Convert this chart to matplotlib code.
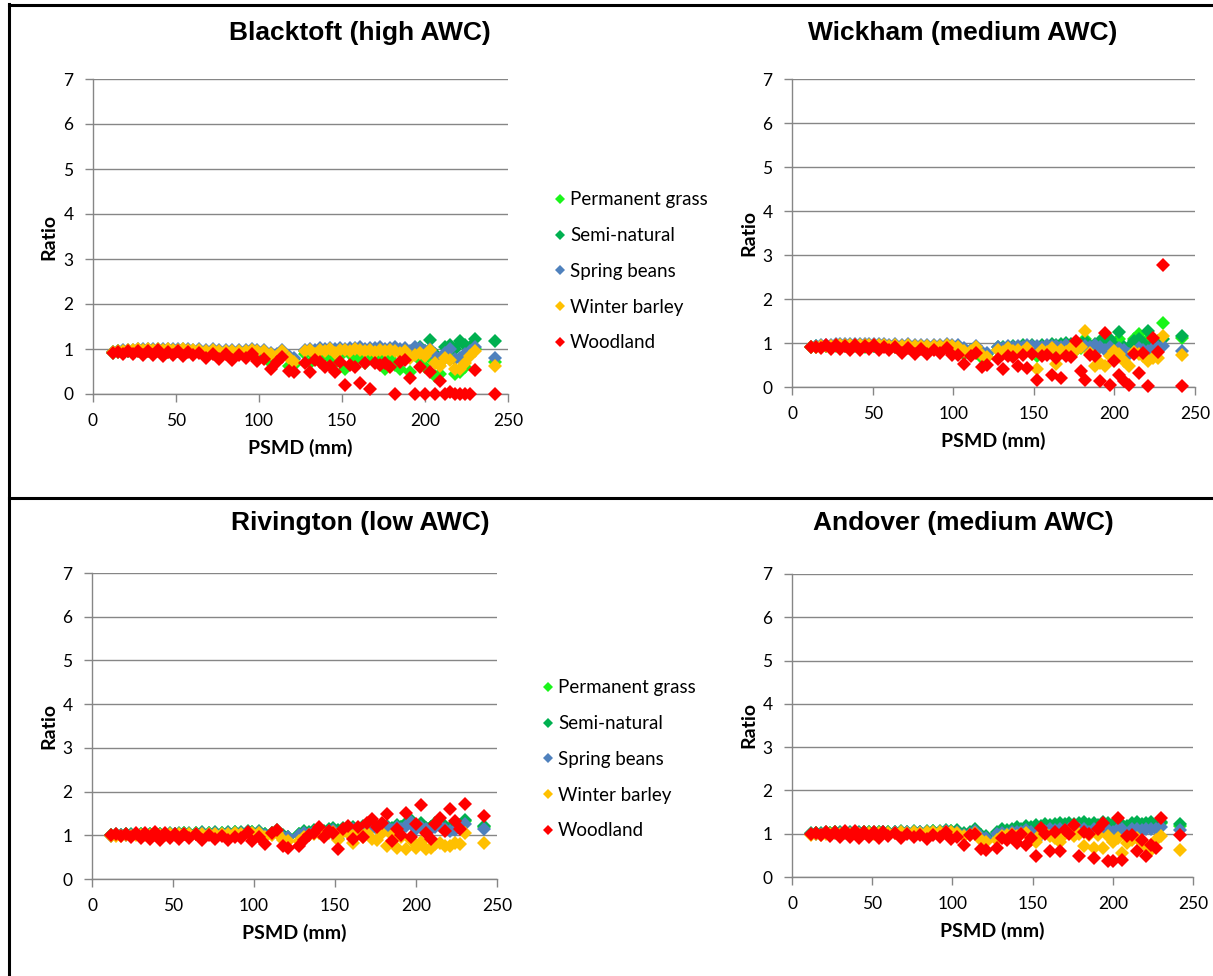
import matplotlib
matplotlib.use("Agg")
import matplotlib.pyplot as plt
from matplotlib.lines import Line2D

# ---------------- data ----------------
psmd = [12, 15, 18, 21, 24, 27, 30, 33, 36, 39, 42, 45, 48, 51, 54, 57, 60, 64, 68, 72, 76, 80, 84, 88, 92, 96, 99,
        103, 107, 111, 114, 118, 121,
        128, 131, 134, 137, 140, 143, 146, 149, 152, 155, 158, 161, 164, 167, 170, 173, 176, 179,
        182, 185, 188, 191, 194, 197, 200, 203, 206, 209, 212, 215, 218, 221, 224, 227, 230, 242]

series_names = ["Permanent grass", "Semi-natural", "Spring beans", "Winter barley", "Woodland"]
series_colors = ["#1AF51A", "#00B050", "#4F81BD", "#FFC000", "#FF0000"]

# Blacktoft (high AWC)
bt_grass = [0.92,0.94,0.93,0.95,0.94,0.96,0.95,0.96,0.94,0.96,0.95,0.94,0.96,0.95,0.94,0.95,0.93,0.94,0.92,0.93,0.91,0.92,0.91,0.92,0.91,0.93,0.92,
            0.90,0.70,0.80,0.90,0.62,0.65,
            0.90,0.70,0.85,0.75,0.90,0.80,0.70,0.85,0.55,0.90,0.75,0.85,0.70,0.90,0.75,0.85,0.55,0.80,0.65,0.55,0.85,0.50,0.90,0.75,0.60,0.80,0.40,0.45,0.85,0.95,0.45,0.50,0.60,0.90,1.00,0.72]
bt_semi = [0.93,0.95,0.94,0.96,0.95,0.97,0.96,0.97,0.95,0.97,0.96,0.95,0.97,0.96,0.95,0.96,0.94,0.95,0.93,0.94,0.92,0.93,0.92,0.93,0.92,0.94,0.93,
           0.95,0.90,0.86,0.96,0.82,0.78,
           0.95,0.98,0.93,1.00,0.97,1.00,0.95,1.00,0.98,1.00,1.00,1.02,0.97,1.00,0.98,1.00,0.97,1.00,1.02,0.95,1.00,0.90,1.00,1.05,0.95,1.20,0.90,0.75,1.05,1.08,1.00,1.17,1.10,1.05,1.22,1.17]
bt_beans = [0.94,0.96,0.97,0.98,0.98,1.00,0.99,1.00,1.00,1.00,0.99,1.00,1.00,0.99,1.00,0.99,0.98,0.99,0.98,0.99,0.97,0.98,0.97,0.98,0.97,0.99,0.98,
            0.98,0.92,0.88,0.98,0.85,0.80,
            0.98,1.00,0.97,1.02,1.00,1.03,1.00,1.02,1.00,1.03,1.02,1.04,1.00,1.03,1.02,1.04,1.00,1.02,1.05,1.00,1.02,0.95,1.05,1.02,0.95,1.00,0.85,0.70,0.92,1.00,0.78,0.80,0.90,0.95,1.05,0.80]
bt_barley = [0.93,0.95,0.96,0.97,0.97,0.99,0.98,0.99,0.98,0.99,0.98,0.99,0.98,0.98,0.99,0.98,0.97,0.97,0.96,0.97,0.95,0.96,0.95,0.96,0.95,0.97,0.96,
             0.95,0.88,0.85,0.95,0.80,0.72,
             0.95,0.97,0.90,0.98,0.95,0.99,0.92,0.97,0.98,0.95,0.99,0.97,0.95,0.98,0.93,0.97,0.95,0.98,0.96,0.92,0.95,0.80,0.87,0.92,0.85,0.98,0.70,0.62,0.80,0.75,0.55,0.55,0.70,0.85,0.95,0.62]
bt_wood = [0.92,0.93,0.90,0.95,0.88,0.96,0.87,0.95,0.86,0.97,0.85,0.94,0.87,0.96,0.84,0.93,0.86,0.92,0.80,0.90,0.78,0.88,0.76,0.86,0.80,0.90,0.74,
           0.78,0.55,0.72,0.82,0.52,0.50,
           0.69,0.50,0.75,0.72,0.60,0.62,0.50,0.72,0.19,0.65,0.60,0.25,0.70,0.12,0.68,0.65,0.70,0.60,0.00,0.72,0.75,0.36,0.00,0.60,0.00,0.50,0.00,0.28,0.00,0.05,0.00,0.00,0.00,0.00,0.54,0.00]

# Wickham (medium AWC)
wk_grass = [0.90,0.92,0.91,0.93,0.92,0.94,0.93,0.94,0.92,0.94,0.93,0.92,0.94,0.93,0.92,0.93,0.91,0.92,0.90,0.91,0.89,0.90,0.89,0.90,0.89,0.91,0.90,
            0.88,0.75,0.80,0.88,0.65,0.68,
            0.85,0.80,0.88,0.80,0.90,0.85,0.88,0.80,0.70,0.88,0.85,0.90,0.80,0.92,0.85,0.90,0.85,0.88,1.10,0.85,0.95,0.90,1.00,1.05,0.90,1.10,0.85,0.80,1.08,1.20,0.95,1.10,0.95,1.00,1.45,1.12]
wk_semi = [0.91,0.93,0.92,0.94,0.93,0.95,0.94,0.95,0.93,0.95,0.94,0.93,0.95,0.94,0.93,0.94,0.92,0.93,0.91,0.92,0.90,0.91,0.90,0.91,0.90,0.92,0.91,
           0.92,0.85,0.85,0.92,0.78,0.75,
           0.90,0.92,0.88,0.93,0.90,0.95,0.92,0.95,0.90,0.96,0.93,0.97,0.95,0.98,1.00,0.97,0.98,0.95,1.05,0.93,0.98,1.05,0.95,1.08,0.95,1.25,0.92,0.90,1.05,1.10,1.00,1.27,0.98,1.05,1.10,1.15]
wk_beans = [0.92,0.94,0.95,0.96,0.96,0.98,0.97,0.98,0.98,0.98,0.97,0.98,0.98,0.97,0.98,0.97,0.96,0.97,0.96,0.97,0.95,0.96,0.95,0.96,0.95,0.97,0.96,
            0.95,0.88,0.85,0.93,0.80,0.78,
            0.92,0.88,0.93,0.90,0.94,0.92,0.95,0.93,0.94,0.90,0.95,0.93,0.94,0.92,0.95,0.93,0.95,0.94,0.93,0.92,0.95,0.90,0.85,0.92,0.80,0.88,0.85,0.75,0.80,0.88,0.85,0.82,0.88,0.90,0.94,0.82]
wk_barley = [0.90,0.92,0.93,0.94,0.94,0.96,0.95,0.96,0.96,0.96,0.95,0.96,0.96,0.95,0.96,0.95,0.94,0.95,0.94,0.95,0.93,0.94,0.93,0.94,0.93,0.95,0.94,
             0.92,0.82,0.82,0.90,0.72,0.68,
             0.85,0.80,0.88,0.82,0.85,0.80,0.88,0.75,0.40,0.85,0.80,0.88,0.52,0.85,0.80,0.88,0.85,0.90,1.27,0.78,0.48,0.55,0.48,0.70,0.82,0.75,0.60,0.48,0.80,0.75,0.70,0.60,0.65,0.65,1.17,0.72]
wk_wood = [0.90,0.92,0.88,0.95,0.87,0.96,0.86,0.94,0.85,0.96,0.84,0.93,0.86,0.95,0.83,0.92,0.85,0.90,0.78,0.88,0.76,0.86,0.75,0.84,0.78,0.88,0.72,
           0.72,0.52,0.70,0.78,0.45,0.50,
           0.63,0.42,0.70,0.68,0.48,0.72,0.44,0.75,0.15,0.70,0.72,0.28,0.65,0.21,0.70,0.68,1.05,0.36,0.17,0.72,0.70,0.13,1.22,0.05,0.60,0.28,0.13,0.05,0.75,0.32,0.78,0.02,1.12,0.80,2.78,0.02]

# Rivington (low AWC)
rv_grass = [1.00,1.01,1.00,1.02,1.01,1.03,1.02,1.03,1.02,1.03,1.02,1.03,1.04,1.03,1.04,1.05,1.04,1.05,1.06,1.05,1.06,1.05,1.06,1.07,1.06,1.08,1.07,
            1.08,1.02,1.05,1.10,0.98,0.95,
            1.02,1.08,1.05,1.10,1.12,1.08,1.12,1.15,1.10,1.15,1.12,1.17,1.15,1.20,1.17,1.20,1.18,1.22,1.20,1.15,1.22,1.18,1.25,1.32,1.20,1.25,1.15,1.18,1.25,1.28,1.20,1.15,1.25,1.22,1.32,1.20]
rv_semi = [1.01,1.02,1.01,1.03,1.02,1.04,1.03,1.04,1.03,1.04,1.03,1.04,1.05,1.04,1.05,1.06,1.05,1.06,1.07,1.06,1.07,1.06,1.07,1.08,1.07,1.09,1.08,
           1.10,1.04,1.06,1.12,1.00,0.96,
           1.04,1.10,1.07,1.12,1.14,1.10,1.14,1.17,1.12,1.17,1.14,1.19,1.17,1.22,1.19,1.22,1.20,1.24,1.22,1.17,1.24,1.20,1.27,1.34,1.22,1.27,1.17,1.20,1.27,1.30,1.22,1.17,1.27,1.24,1.34,1.22]
rv_beans = [0.99,1.00,1.00,1.01,1.00,1.02,1.01,1.02,1.01,1.02,1.01,1.02,1.03,1.02,1.03,1.04,1.03,1.04,1.05,1.04,1.05,1.04,1.05,1.06,1.05,1.07,1.06,
            1.07,1.00,1.03,1.08,0.97,0.95,
            1.00,1.05,1.02,1.08,1.10,1.05,1.10,1.12,0.92,1.12,1.10,1.15,1.12,1.17,1.15,1.18,1.15,1.20,1.18,1.12,1.20,1.15,1.22,1.30,1.15,1.20,1.14,1.15,1.20,1.22,1.15,1.10,1.12,1.20,1.25,1.14]
rv_barley = [0.98,0.99,0.99,1.00,0.99,1.01,1.00,1.01,1.00,1.01,1.00,1.01,1.02,1.01,1.02,1.03,1.02,1.03,1.04,1.03,1.04,1.03,1.04,1.05,1.04,1.06,1.05,
             1.05,0.95,1.00,1.05,0.90,0.88,
             0.88,0.95,1.00,1.02,1.05,1.00,1.05,1.08,0.90,1.08,1.05,0.83,1.10,0.95,1.05,0.92,0.90,1.05,0.75,1.00,0.72,0.95,0.68,0.90,0.72,0.85,0.68,0.72,0.80,0.83,0.75,0.75,0.83,0.80,1.05,0.82]
rv_wood = [1.00,1.02,0.98,1.04,0.96,1.05,0.93,1.06,0.92,1.07,0.90,1.05,0.93,1.04,0.91,1.03,0.94,1.02,0.90,1.00,0.92,0.98,0.89,0.97,0.93,1.08,0.88,
           0.97,0.80,1.05,1.12,0.75,0.72,
           0.75,0.90,1.00,1.05,1.18,0.95,1.10,1.05,0.69,1.15,1.22,0.91,1.20,0.95,1.29,1.37,1.20,1.29,1.48,0.87,1.15,1.00,1.52,0.95,1.25,1.70,1.06,0.91,1.25,1.40,1.10,1.60,1.33,1.15,1.72,1.45]

# Andover (medium AWC)
an_grass = [1.00,1.01,1.00,1.02,1.01,1.03,1.02,1.03,1.02,1.03,1.02,1.03,1.03,1.02,1.03,1.04,1.03,1.04,1.05,1.04,1.05,1.04,1.05,1.06,1.05,1.07,1.06,
            1.05,1.00,1.02,1.08,0.95,0.92,
            1.02,1.05,1.05,1.08,1.10,1.08,1.12,1.10,1.15,1.12,1.15,1.15,1.17,1.18,1.15,1.18,1.17,1.20,1.20,1.15,1.20,1.15,1.22,1.20,1.18,1.25,1.15,1.12,1.20,1.22,1.18,1.20,1.22,1.18,1.25,1.18]
an_semi = [1.01,1.02,1.01,1.03,1.02,1.04,1.03,1.04,1.03,1.04,1.03,1.04,1.04,1.03,1.04,1.05,1.04,1.05,1.06,1.05,1.06,1.05,1.06,1.07,1.06,1.08,1.07,
           1.08,1.02,1.04,1.10,0.98,0.95,
           1.05,1.10,1.08,1.12,1.15,1.12,1.18,1.15,1.20,1.17,1.22,1.20,1.22,1.25,1.22,1.25,1.22,1.25,1.27,1.22,1.25,1.20,1.28,1.25,1.22,1.30,1.20,1.18,1.25,1.27,1.22,1.25,1.27,1.22,1.28,1.22]
an_beans = [0.99,1.00,0.99,1.01,1.00,1.02,1.01,1.02,1.01,1.02,1.01,1.02,1.02,1.01,1.02,1.03,1.02,1.03,1.04,1.03,1.04,1.03,1.04,1.05,1.04,1.06,1.05,
            1.05,0.98,1.00,1.06,0.93,0.90,
            1.00,1.02,1.00,1.05,1.05,1.03,1.08,1.05,0.85,1.08,1.06,1.10,1.08,1.10,1.08,1.10,1.08,1.12,1.10,1.05,1.10,1.05,1.12,1.08,1.05,1.12,1.10,1.00,1.10,1.12,1.08,1.10,1.12,1.10,1.15,1.08]
an_barley = [0.98,0.99,0.98,1.00,0.99,1.01,1.00,1.01,1.00,1.01,1.00,1.01,1.01,1.00,1.01,1.02,1.01,1.02,1.03,1.02,1.03,1.02,1.03,1.04,1.03,1.05,1.04,
             1.02,0.95,0.98,1.02,0.85,0.82,
             0.85,0.95,0.98,1.00,0.95,1.00,1.02,0.85,0.80,1.00,1.02,0.95,0.90,0.82,1.00,1.02,0.95,1.00,0.71,0.98,0.67,0.98,0.67,0.95,0.82,0.90,0.55,0.78,0.85,0.90,0.80,0.71,0.63,0.85,0.94,0.63]
an_wood = [1.00,1.02,0.97,1.04,0.95,1.05,0.93,1.06,0.92,1.07,0.90,1.05,0.93,1.04,0.91,1.03,0.94,1.02,0.89,1.00,0.92,0.98,0.88,0.97,0.92,1.04,0.88,
           0.92,0.75,0.98,1.00,0.65,0.62,
           0.67,0.90,0.85,0.98,0.78,1.00,0.75,0.90,0.48,1.13,1.00,0.59,1.05,0.59,1.09,1.00,1.20,0.48,1.05,1.00,0.44,1.10,1.25,0.36,0.36,1.36,0.40,0.95,0.98,0.59,0.85,0.48,0.75,0.67,1.36,0.98]

titles = ["Blacktoft (high AWC)", "Wickham (medium AWC)", "Rivington (low AWC)", "Andover (medium AWC)"]
panel_series = [
    [bt_grass, bt_semi, bt_beans, bt_barley, bt_wood],
    [wk_grass, wk_semi, wk_beans, wk_barley, wk_wood],
    [rv_grass, rv_semi, rv_beans, rv_barley, rv_wood],
    [an_grass, an_semi, an_beans, an_barley, an_wood],
]
for grp in panel_series:
    for s in grp:
        assert len(s) == len(psmd), len(s)

x_ticks = [0, 50, 100, 150, 200, 250]
y_ticks = [0, 1, 2, 3, 4, 5, 6, 7]

# ---------------- layout ----------------
W, H = 1213, 976
fig = plt.figure(figsize=(W / 100, H / 100), dpi=100)

def px_axes(left, right, top, bottom):
    return [left / W, 1 - bottom / H, (right - left) / W, (bottom - top) / H]

axes_px = [(93, 508, 79, 394), (792, 1195, 79, 387), (92, 497, 573, 879), (792, 1193, 574, 877)]
title_pos = [(360, 40), (963, 40), (360, 530), (963, 530)]
legend_pos = [(554, 271.5), None, (542, 759.5), None]

grid_col = "#868686"
tick_font = "Lato"

for i in range(4):
    ax = fig.add_axes(px_axes(*axes_px[i]))
    for name, col, ys in zip(series_names, series_colors, panel_series[i]):
        ax.plot(psmd, ys, linestyle="none", marker="D", ms=7.5, mew=0,
                color=col, label=name, clip_on=False, zorder=3)
    ax.set_xlim(0, 250)
    ax.set_ylim(0, 7)
    ax.set_xticks(x_ticks)
    ax.set_yticks(y_ticks)
    ax.yaxis.grid(True, color=grid_col, linewidth=1.0)
    ax.set_axisbelow(True)
    for sp in ["top", "right"]:
        ax.spines[sp].set_visible(False)
    for sp in ["left", "bottom"]:
        ax.spines[sp].set_color(grid_col)
        ax.spines[sp].set_linewidth(1.0)
    ax.tick_params(axis="both", colors=grid_col, width=1.0, length=6, direction="out",
                   labelcolor="black", labelsize=12.5, pad=8)
    for lab in ax.get_xticklabels() + ax.get_yticklabels():
        lab.set_family(tick_font)
    ax.set_xlabel("PSMD (mm)", fontsize=14, fontweight="bold", family=tick_font, labelpad=7)
    ax.set_ylabel("Ratio", fontsize=14, fontweight="bold", family=tick_font, labelpad=4)
    tx, ty = title_pos[i]
    fig.text(tx / W, 1 - ty / H, titles[i], ha="center", va="baseline",
             fontsize=19, fontweight="bold", family="Liberation Sans")
    if legend_pos[i] is not None:
        lx, ly = legend_pos[i]
        handles = [Line2D([], [], linestyle="none", marker="D", ms=5, mew=0, color=c)
                   for c in series_colors]
        fig.legend(handles, series_names, loc="center left",
                   bbox_to_anchor=(lx / W, 1 - ly / H), frameon=False,
                   prop={"family": tick_font, "size": 13.5},
                   handlelength=0.6, handletextpad=0.25, borderpad=0,
                   borderaxespad=0, labelspacing=1.0)

# frame lines
lw = 2.2
fig.add_artist(Line2D([8.5 / W, 8.5 / W], [0, 1 - 4 / H], transform=fig.transFigure, color="black", lw=lw))
fig.add_artist(Line2D([8.5 / W, 1], [1 - 5 / H, 1 - 5 / H], transform=fig.transFigure, color="black", lw=lw))
fig.add_artist(Line2D([8.5 / W, 1], [1 - 497.5 / H, 1 - 497.5 / H], transform=fig.transFigure, color="black", lw=lw))

fig.savefig("out.png", dpi=100, facecolor="white")
